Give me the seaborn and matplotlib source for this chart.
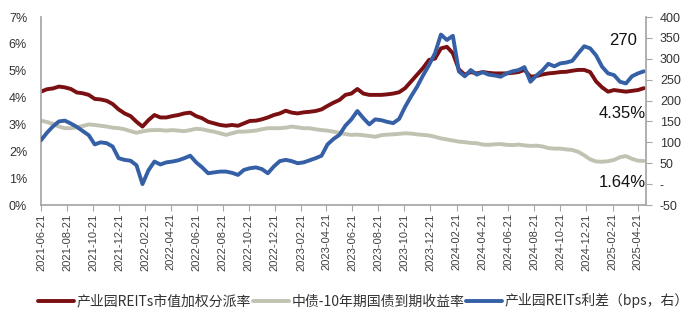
import pandas as pd
import matplotlib
matplotlib.use("Agg")
import matplotlib.pyplot as plt
import matplotlib.ticker as mticker
import matplotlib.transforms as mtransforms
import seaborn as sns

# Fortnightly observations starting 2021-06-21
start_date = "2021-06-21"
obs_step = "14D"

# 产业园REITs市值加权分派率 (%)
reits_yield = [
    4.22, 4.31, 4.34, 4.41, 4.38, 4.32, 4.19, 4.16, 4.10, 3.95,
    3.93, 3.88, 3.76, 3.56, 3.41, 3.31, 3.10, 2.92, 3.16, 3.35,
    3.26, 3.26, 3.31, 3.35, 3.41, 3.44, 3.31, 3.23, 3.10, 3.04,
    2.98, 2.95, 2.98, 2.95, 3.04, 3.13, 3.14, 3.19, 3.26, 3.35,
    3.41, 3.51, 3.44, 3.41, 3.45, 3.47, 3.50, 3.56, 3.69, 3.81,
    3.91, 4.10, 4.15, 4.32, 4.15, 4.10, 4.10, 4.10, 4.12, 4.15,
    4.20, 4.35, 4.60, 4.85, 5.10, 5.40, 5.45, 5.83, 5.89, 5.65,
    5.05, 4.85, 4.95, 4.90, 4.95, 4.92, 4.90, 4.90, 4.90, 4.92,
    4.95, 5.03, 4.78, 4.80, 4.86, 4.90, 4.92, 4.95, 4.96, 5.00,
    5.03, 5.03, 4.95, 4.60, 4.38, 4.22, 4.28, 4.25, 4.22, 4.25,
    4.28, 4.35,
]

# 中债-10年期国债到期收益率 (%)
cgb_10y = [
    3.14, 3.09, 3.02, 2.92, 2.86, 2.86, 2.89, 2.94, 3.00, 2.98,
    2.95, 2.92, 2.88, 2.86, 2.82, 2.75, 2.69, 2.74, 2.78, 2.79,
    2.79, 2.77, 2.79, 2.77, 2.75, 2.79, 2.84, 2.82, 2.77, 2.73,
    2.67, 2.61, 2.67, 2.73, 2.73, 2.75, 2.77, 2.82, 2.86, 2.86,
    2.86, 2.88, 2.92, 2.89, 2.86, 2.86, 2.82, 2.79, 2.77, 2.73,
    2.69, 2.64, 2.61, 2.62, 2.60, 2.57, 2.54, 2.60, 2.62, 2.63,
    2.65, 2.67, 2.66, 2.63, 2.61, 2.59, 2.54, 2.48, 2.44, 2.40,
    2.36, 2.34, 2.31, 2.30, 2.25, 2.24, 2.26, 2.27, 2.24, 2.23,
    2.25, 2.22, 2.20, 2.21, 2.18, 2.12, 2.10, 2.10, 2.07, 2.05,
    1.98, 1.85, 1.70, 1.62, 1.61, 1.63, 1.68, 1.78, 1.82, 1.72,
    1.65, 1.64,
]

# 产业园REITs利差 (bps)
reits_spread = [
    105, 123, 138, 150, 152, 145, 137, 127, 117, 95,
    100, 98, 90, 62, 58, 56, 45, 0, 33, 54,
    47, 52, 54, 57, 62, 68, 52, 40, 26, 28,
    30, 30, 27, 22, 34, 38, 40, 36, 26, 42,
    55, 58, 55, 50, 52, 57, 62, 68, 95, 108,
    118, 140, 155, 175, 158, 143, 155, 153, 149, 146,
    156, 185, 210, 233, 260, 285, 313, 358, 345, 355,
    270, 258, 273, 262, 268, 262, 260, 257, 265, 270,
    273, 280, 245, 260, 272, 288, 282, 289, 291, 295,
    313, 330, 325, 308, 281, 265, 261, 245, 241, 258,
    265, 270,
]

series_names = ["产业园REITs市值加权分派率", "中债-10年期国债到期收益率", "产业园REITs利差（bps，右）"]
series_colors = ["#7A1012", "#C2C2B2", "#3560A6"]

tick_dates = pd.date_range("2021-06-21", "2025-04-21", freq=pd.DateOffset(months=2))

dates = pd.date_range(start_date, periods=len(reits_yield), freq=obs_step)
df = pd.DataFrame({
    "date": dates,
    "yield": reits_yield,
    "cgb": cgb_10y,
    "spread": reits_spread,
})

sns.set_theme(style="white")
plt.rcParams["font.family"] = ["Liberation Sans", "Noto Sans CJK SC", "DejaVu Sans"]

fig = plt.figure(figsize=(6.99, 3.26), dpi=100)
ax = fig.add_axes([41 / 699, 1 - 205 / 326, 605 / 699, 188 / 326])
ax2 = ax.twinx()

lw = 2.8
sns.lineplot(data=df, x="date", y="cgb", ax=ax, color=series_colors[1], lw=lw,
             label=series_names[1], legend=False)
sns.lineplot(data=df, x="date", y="yield", ax=ax, color=series_colors[0], lw=lw,
             label=series_names[0], legend=False)
sns.lineplot(data=df, x="date", y="spread", ax=ax2, color=series_colors[2], lw=lw,
             label=series_names[2], legend=False)

# Left axis: percent
ax.set_ylim(0, 7)
ax.set_yticks(range(0, 8))
ax.yaxis.set_major_formatter(mticker.FuncFormatter(lambda v, p: f"{v:.0f}%"))
ax.set_xlim(pd.Timestamp("2021-06-21"), pd.Timestamp("2025-05-10"))
ax.set_xticks(tick_dates)
ax.set_xticklabels([d.strftime("%Y-%m-%d") for d in tick_dates], rotation=90, fontsize=8,
                   color="#404040")
ax.set_xlabel("")
ax.set_ylabel("")

# Right axis: bps, zero shown as a dash
ax2.set_ylim(-50, 400)
ax2.set_yticks(range(-50, 401, 50))
ax2.yaxis.set_major_formatter(mticker.FuncFormatter(lambda v, p: "-" if v == 0 else f"{v:.0f}"))
ax2.set_ylabel("")

axis_grey = "#A6A6A6"
for a in (ax, ax2):
    for s in a.spines.values():
        s.set_visible(False)
ax.spines["left"].set_visible(True)
ax.spines["left"].set_color(axis_grey)
ax.spines["bottom"].set_visible(True)
ax.spines["bottom"].set_color(axis_grey)
ax2.spines["right"].set_visible(True)
ax2.spines["right"].set_color(axis_grey)

ax.tick_params(axis="y", left=False, labelsize=9, colors="#333333", pad=4)
ax.tick_params(axis="x", bottom=True, length=4, width=0.8, color=axis_grey, pad=2)
ax2.tick_params(axis="y", right=True, length=4, width=0.8, color=axis_grey,
                labelsize=9, labelcolor="#333333", pad=6)

# Latest-value callouts at the right edge
trans = mtransforms.blended_transform_factory(ax.transAxes, ax.transData)
ax.text(0.985, 6.12, f"{reits_spread[-1]:.0f}", transform=trans, ha="right", va="center",
        fontsize=12, color="#111111")
ax.text(1.0, 3.39, f"{reits_yield[-1]:.2f}%", transform=trans, ha="right", va="center",
        fontsize=12, color="#111111")
ax.text(1.0, 0.82, f"{cgb_10y[-1]:.2f}%", transform=trans, ha="right", va="center",
        fontsize=12, color="#111111")

h1, l1 = ax.get_legend_handles_labels()
h2, l2 = ax2.get_legend_handles_labels()
handles = {l: h for h, l in zip(h1 + h2, l1 + l2)}
leg = fig.legend([handles[n] for n in series_names], series_names, loc="center",
                 bbox_to_anchor=(0.52, 1 - 301 / 326), ncol=3, frameon=False,
                 handlelength=2.6, handletextpad=0.2, columnspacing=0.1,
                 prop={"family": ["Noto Sans CJK SC", "DejaVu Sans"], "size": 10})
for t in leg.get_texts():
    t.set_color("#333333")

fig.savefig("out.png", dpi=100)
